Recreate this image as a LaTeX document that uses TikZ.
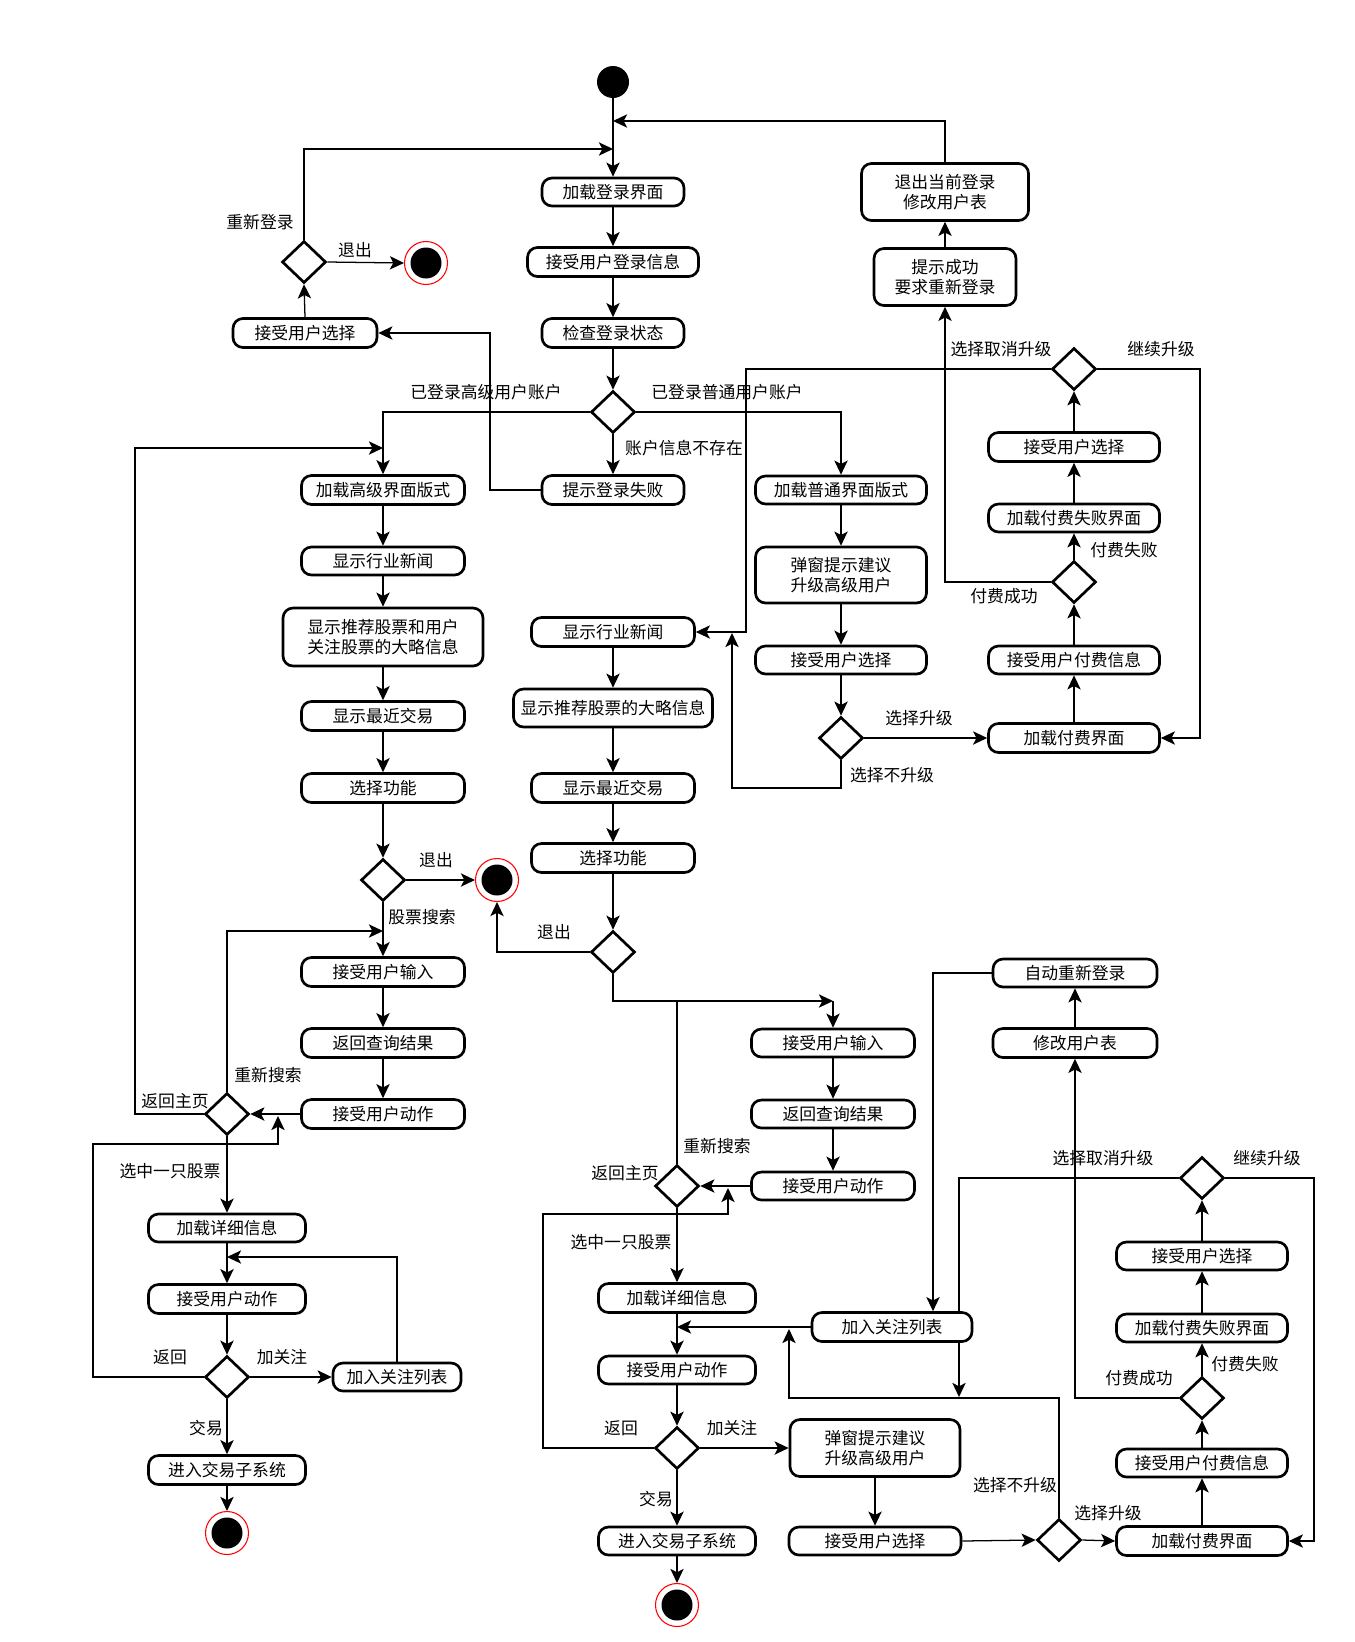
\documentclass[tikz,border=0pt]{standalone}
\usepackage{fontspec}
\setmainfont{Noto Sans CJK SC}
\usetikzlibrary{shapes.geometric,arrows.meta,backgrounds}
\tikzset{
 every node/.style={font=\fontsize{12.6pt}{14.6pt}\selectfont},
 box/.style={draw, rectangle, rounded corners=7.5pt, line width=2pt, fill=white, inner sep=0pt, align=center},
 wh/.style 2 args={minimum width=#1*0.75pt, minimum height=#2*0.75pt},
 dec/.style={draw, diamond, line width=2pt, fill=white, inner sep=0pt, minimum width=44*0.75pt, minimum height=42*0.75pt},
 endnode/.style={circle, draw=red, line width=0.8pt, fill=white, inner sep=0pt, minimum size=43*0.75pt,
   path picture={\fill[black] (path picture bounding box.center) circle (15.5*0.75pt);}},
 startnode/.style={circle, fill=black, inner sep=0pt, minimum size=32*0.75pt},
 lbl/.style={inner sep=0pt},
 arr/.style={line width=0.95pt, -{Stealth[length=10.6pt,width=10pt,inset=2.6pt]}},
 ln/.style={line width=0.95pt},
}
\begin{document}
\begin{tikzpicture}[x=0.75pt,y=-0.75pt]
\begin{scope}[on background layer]
\fill[white] (0,0) rectangle (1354,1642);
\end{scope}
\useasboundingbox (0,0) rectangle (1354,1642);

% ---------- top ----------
\node[startnode] (start) at (613,82) {};
\node[box,wh={142}{28}] (login) at (613,192) {加载登录界面};
\node[box,wh={171}{29}] (recvlogin) at (613,262) {接受用户登录信息};
\node[box,wh={142}{29}] (check) at (613,333) {检查登录状态};
\node[dec] (d0) at (613,412) {};
\node[box,wh={142}{29}] (fail) at (613,490) {提示登录失败};
\node[box,wh={144}{29}] (selL) at (305,333) {接受用户选择};
\node[dec] (dRe) at (304,262) {};
\node[endnode] (endA) at (426,263) {};
\node[box,wh={167}{57}] (logout) at (945,192) {退出当前登录\\修改用户表};
\node[box,wh={142}{57}] (okre) at (945,277) {提示成功\\要求重新登录};
\coordinate (c121) at (613,121);
\coordinate (c149) at (613,149);

% ---------- left column ----------
\node[box,wh={163}{29}] (advUI) at (383,490) {加载高级界面版式};
\node[box,wh={163}{28}] (newsL) at (383,561) {显示行业新闻};
\node[box,wh={200}{58}] (recL) at (383,637) {显示推荐股票和用户\\关注股票的大略信息};
\node[box,wh={163}{29}] (recentL) at (383,716) {显示最近交易};
\node[box,wh={163}{29}] (funcL) at (383,788) {选择功能};
\node[dec] (dL1) at (383,880) {};
\node[endnode] (endB) at (497,880) {};
\node[box,wh={163}{29}] (inputL) at (383,972) {接受用户输入};
\node[box,wh={163}{29}] (resultL) at (383,1043) {返回查询结果};
\node[box,wh={163}{29}] (actL) at (383,1114) {接受用户动作};
\node[dec] (dL2) at (227,1114) {};
\node[box,wh={157}{28}] (detailL) at (227,1228) {加载详细信息};
\node[box,wh={157}{29}] (act2L) at (227,1299) {接受用户动作};
\node[dec] (dL3) at (227,1377) {};
\node[box,wh={128}{28}] (watchL) at (397,1377) {加入关注列表};
\node[box,wh={157}{29}] (tradeL) at (227,1470) {进入交易子系统};
\node[endnode] (endC) at (227,1533) {};
\coordinate (cS1) at (383,931);
\coordinate (cHome) at (383,448);
\coordinate (cBackL) at (278,1116);
\coordinate (cWL) at (227,1257);

% ---------- normal-user column ----------
\node[box,wh={171}{28}] (normUI) at (841,490) {加载普通界面版式};
\node[box,wh={171}{56}] (popup) at (841,575) {弹窗提示建议\\升级高级用户};
\node[box,wh={171}{28}] (selN) at (841,660) {接受用户选择};
\node[dec] (dN) at (841,738) {};
\node[box,wh={171}{29}] (payUI) at (1074,738) {加载付费界面};
\node[box,wh={171}{28}] (payInfo) at (1074,660) {接受用户付费信息};
\node[dec] (dPay) at (1074,582) {};
\node[box,wh={171}{28}] (payFail) at (1074,518) {加载付费失败界面};
\node[box,wh={171}{29}] (selU) at (1074,447) {接受用户选择};
\node[dec] (dU) at (1074,369) {};
\coordinate (cNo) at (732,633);

% ---------- middle column ----------
\node[box,wh={163}{29}] (newsM) at (613,632) {显示行业新闻};
\node[box,wh={199}{38}] (recM) at (613,708) {显示推荐股票的大略信息};
\node[box,wh={163}{29}] (recentM) at (613,788) {显示最近交易};
\node[box,wh={163}{29}] (funcM) at (613,858) {选择功能};
\node[dec] (dM1) at (613,952) {};
\node[box,wh={163}{28}] (inputR) at (833,1043) {接受用户输入};
\node[box,wh={163}{28}] (resultR) at (833,1114) {返回查询结果};
\node[box,wh={163}{28}] (actR) at (833,1186) {接受用户动作};
\node[dec] (dM2) at (677,1186) {};
\node[box,wh={157}{29}] (detailM) at (677,1298) {加载详细信息};
\node[box,wh={157}{28}] (act2M) at (677,1370) {接受用户动作};
\node[dec] (dM3) at (677,1448) {};
\node[box,wh={157}{28}] (tradeM) at (677,1541) {进入交易子系统};
\node[endnode] (endD) at (677,1605) {};
\coordinate (cIn) at (833,1001);
\coordinate (cJ) at (677,1001);
\coordinate (cBackM) at (728,1188);
\coordinate (cWM) at (677,1327);

% ---------- lower right ----------
\node[dec] (dU2) at (1202,1178) {};
\coordinate (cX) at (959,1397);
\begin{scope}[on background layer]
\draw[arr] (dU2.west) -| (cX);
\end{scope}
\node[box,wh={160}{29}] (watchR) at (892,1327) {加入关注列表};
\node[box,wh={170}{57}] (popupR) at (875,1448) {弹窗提示建议\\升级高级用户};
\node[box,wh={172}{28}] (selR2) at (875,1541) {接受用户选择};
\node[dec] (dR4) at (1059,1540) {};
\node[box,wh={171}{29}] (payUI2) at (1202,1541) {加载付费界面};
\node[box,wh={171}{28}] (payInfo2) at (1202,1463) {接受用户付费信息};
\node[dec] (dPay2) at (1202,1398) {};
\node[box,wh={171}{28}] (payFail2) at (1202,1328) {加载付费失败界面};
\node[box,wh={171}{28}] (selU2) at (1202,1256) {接受用户选择};
\node[box,wh={164}{28}] (autoRe) at (1075,973) {自动重新登录};
\node[box,wh={164}{29}] (modTab) at (1075,1043) {修改用户表};
\coordinate (cNo2) at (789,1329);

% ---------- labels ----------
\node[lbl] (t1) at (260,222) {重新登录};
\node[lbl] (t2) at (355,250) {退出};
\node[lbl] (t3) at (486,392) {已登录高级用户账户};
\node[lbl] (t4) at (727,392) {已登录普通用户账户};
\node[lbl] (t5) at (684,448) {账户信息不存在};
\node[lbl] (t6) at (1001,349) {选择取消升级};
\node[lbl] (t7) at (1161,349) {继续升级};
\node[lbl] (t8) at (1124,550) {付费失败};
\node[lbl] (t9) at (1004,596) {付费成功};
\node[lbl] (t10) at (919,718) {选择升级};
\node[lbl] (t11) at (892,775) {选择不升级};
\node[lbl] (t12) at (436,860) {退出};
\node[lbl] (t13) at (422,917) {股票搜索};
\node[lbl] (t14) at (554,932) {退出};
\node[lbl] (t15) at (268,1075) {重新搜索};
\node[lbl] (t16) at (175,1101) {返回主页};
\node[lbl] (t17) at (170,1171) {选中一只股票};
\node[lbl] (t18) at (170,1357) {返回};
\node[lbl] (t19) at (282,1357) {加关注};
\node[lbl] (t20) at (206,1428) {交易};
\node[lbl] (t21) at (717,1146) {重新搜索};
\node[lbl] (t22) at (625,1173) {返回主页};
\node[lbl] (t23) at (621,1242) {选中一只股票};
\node[lbl] (t24) at (621,1428) {返回};
\node[lbl] (t25) at (732,1428) {加关注};
\node[lbl] (t26) at (656,1499) {交易};
\node[lbl] (t27) at (1015,1485) {选择不升级};
\node[lbl] (t28) at (1108,1513) {选择升级};
\node[lbl] (t29) at (1103,1158) {选择取消升级};
\node[lbl] (t30) at (1267,1158) {继续升级};
\node[lbl] (t31) at (1245,1364) {付费失败};
\node[lbl] (t32) at (1139,1378) {付费成功};

% ---------- connectors: top ----------
\draw[arr] (start) -- (login);
\draw[arr] (logout.north) |- (c121);
\draw[arr] (dRe.north) |- (c149);
\draw[arr] (dRe.east) -- (endA.west);
\draw[arr] (selL.north) -- (dRe.south);
\draw[arr] (login) -- (recvlogin);
\draw[arr] (recvlogin) -- (check);
\draw[arr] (check) -- (d0.north);
\draw[arr] (d0.south) -- (fail.north);
\draw[arr] (d0.west) -| (advUI.north);
\draw[arr] (d0.east) -| (normUI.north);
\draw[arr] (fail.west) -- (490,490) |- (selL.east);
\draw[arr] (okre.north) -- (logout.south);

% upper right
\draw[arr] (payUI) -- (payInfo);
\draw[arr] (payInfo) -- (dPay.south);
\draw[arr] (dPay.north) -- (payFail.south);
\draw[arr] (payFail) -- (selU);
\draw[arr] (selU) -- (dU.south);
\draw[arr] (dPay.west) -| (okre.south);
\draw[arr] (dU.west) -- (746,369) |- (newsM.east);
\draw[arr] (dU.east) -- (1200,369) |- (payUI.east);
\draw[arr] (normUI) -- (popup);
\draw[arr] (popup) -- (selN);
\draw[arr] (selN) -- (dN.north);
\draw[arr] (dN.east) -- (payUI.west);
\draw[arr] (dN.south) -- (841,788) -- (732,788) -- (cNo);

% middle column
\draw[arr] (newsM) -- (recM);
\draw[arr] (recM) -- (recentM);
\draw[arr] (recentM) -- (funcM);
\draw[arr] (funcM) -- (dM1.north);
\draw[arr] (dM1.west) -| (endB.south);
\draw[arr] (dM1.south) |- (cIn);
\draw[arr] (cIn) -- (inputR.north);
\draw[arr] (inputR) -- (resultR);
\draw[arr] (resultR) -- (actR);
\draw[arr] (actR.west) -- (dM2.east);
\draw[ln] (dM2.north) -- (cJ);
\draw[arr] (dM2.south) -- (detailM.north);
\draw[arr] (detailM) -- (act2M);
\draw[arr] (watchR.west) -- (cWM);
\draw[arr] (act2M) -- (dM3.north);
\draw[arr] (dM3.west) -- (543,1448) |- (728,1214) -- (cBackM);
\draw[arr] (dM3.east) -- (popupR.west);
\draw[arr] (dM3.south) -- (tradeM.north);
\draw[arr] (tradeM) -- (endD);
\draw[arr] (popupR) -- (selR2);
\draw[arr] (selR2.east) -- (dR4.west);
\draw[arr] (dR4.east) -- (payUI2.west);
\draw[arr] (dR4.north) |- (789,1398) -- (cNo2);

% lower right
\draw[arr] (payUI2) -- (payInfo2);
\draw[arr] (payInfo2) -- (dPay2.south);
\draw[arr] (dPay2.north) -- (payFail2.south);
\draw[arr] (payFail2) -- (selU2);
\draw[arr] (selU2) -- (dU2.south);
\draw[arr] (dPay2.west) -| (modTab.south);
\draw[arr] (modTab) -- (autoRe);
\draw[arr] (autoRe.west) -| ([xshift=41*0.75pt]watchR.north);
\draw[arr] (dU2.east) -- (1314,1178) |- (payUI2.east);

% left column
\draw[arr] (advUI) -- (newsL);
\draw[arr] (newsL) -- (recL);
\draw[arr] (recL) -- (recentL);
\draw[arr] (recentL) -- (funcL);
\draw[arr] (funcL) -- (dL1.north);
\draw[arr] (dL1.east) -- (endB.west);
\draw[arr] (dL1.south) -- (inputL.north);
\draw[arr] (inputL) -- (resultL);
\draw[arr] (resultL) -- (actL);
\draw[arr] (actL.west) -- (dL2.east);
\draw[arr] (dL2.north) |- (cS1);
\draw[arr] (dL2.west) -- (135,1114) |- (cHome);
\draw[arr] (dL2.south) -- (detailL.north);
\draw[arr] (detailL) -- (act2L);
\draw[arr] (watchL.north) |- (cWL);
\draw[arr] (act2L) -- (dL3.north);
\draw[arr] (dL3.west) -- (93,1377) |- (278,1144) -- (cBackL);
\draw[arr] (dL3.east) -- (watchL.west);
\draw[arr] (dL3.south) -- (tradeL.north);
\draw[arr] (tradeL) -- (endC);
\end{tikzpicture}
\end{document}
